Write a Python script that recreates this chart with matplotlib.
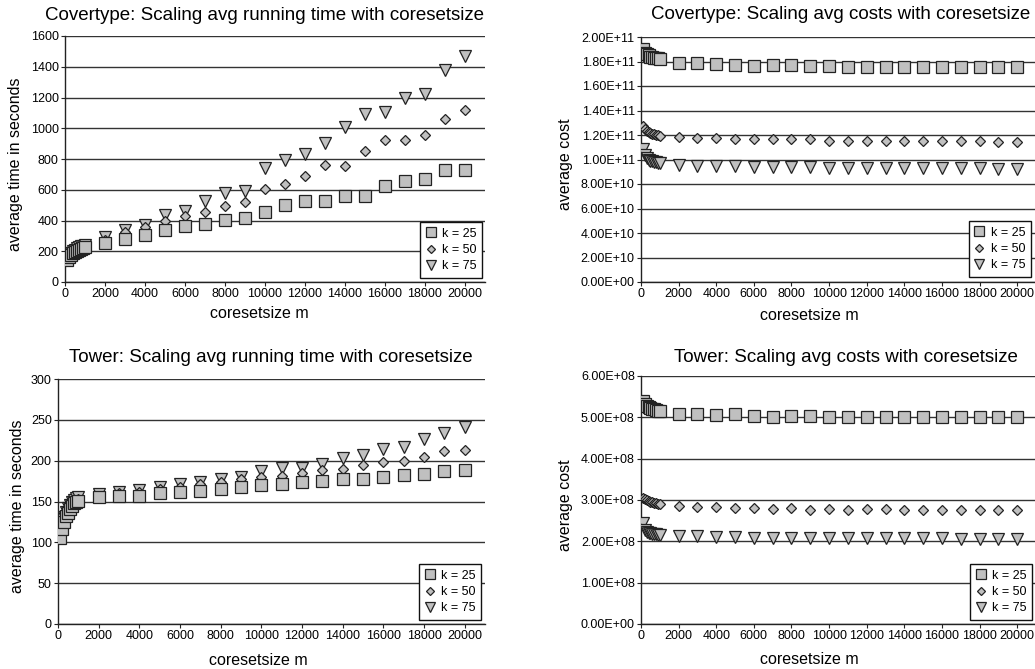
import numpy as np
import matplotlib

matplotlib.use("Agg")
import matplotlib.pyplot as plt
from matplotlib.ticker import FuncFormatter, MultipleLocator

plt.rcParams["font.family"] = ["Liberation Sans", "DejaVu Sans"]

# coreset sizes: fine steps up to 1000, then steps of 1000
coreset_m = [100, 200, 300, 400, 500, 600, 700, 800, 900, 1000,
             2000, 3000, 4000, 5000, 6000, 7000, 8000, 9000, 10000, 11000,
             12000, 13000, 14000, 15000, 16000, 17000, 18000, 19000, 20000]
k_labels = ["k = 25", "k = 50", "k = 75"]

# Covertype running time (seconds)
cov_time_k25 = [145, 165, 178, 188, 197, 204, 210, 216, 222, 228,
                256, 282, 304, 336, 362, 375, 401, 418, 455, 501,
                525, 529, 562, 557, 622, 657, 668, 731, 728]
cov_time_k50 = [152, 172, 185, 195, 204, 211, 218, 224, 229, 234,
                275, 325, 358, 395, 427, 455, 492, 518, 605, 635,
                689, 759, 757, 850, 926, 921, 954, 1062, 1117]
cov_time_k75 = [158, 178, 191, 202, 210, 218, 225, 231, 237, 242,
                290, 336, 373, 434, 460, 525, 581, 592, 741, 793,
                833, 904, 1008, 1095, 1106, 1197, 1225, 1381, 1468]

# Covertype average cost (x 1e11)
cov_cost_k25 = [1.90, 1.87, 1.86, 1.85, 1.84, 1.835, 1.83, 1.83, 1.825, 1.822,
                1.787, 1.787, 1.782, 1.771, 1.765, 1.768, 1.768, 1.763, 1.760, 1.758,
                1.758, 1.757, 1.755, 1.755, 1.755, 1.757, 1.755, 1.755, 1.752]
cov_cost_k50 = [1.27, 1.25, 1.235, 1.225, 1.215, 1.21, 1.205, 1.20, 1.20, 1.195,
                1.187, 1.173, 1.173, 1.168, 1.165, 1.165, 1.165, 1.165, 1.155, 1.155,
                1.152, 1.150, 1.150, 1.150, 1.148, 1.148, 1.147, 1.146, 1.145]
cov_cost_k75 = [1.085, 1.035, 1.01, 0.995, 0.99, 0.985, 0.98, 0.978, 0.975, 0.972,
                0.957, 0.950, 0.948, 0.943, 0.940, 0.938, 0.937, 0.935, 0.933, 0.932,
                0.931, 0.930, 0.929, 0.929, 0.928, 0.927, 0.927, 0.926, 0.925]

# Tower running time (seconds)
tow_time_k25 = [105, 116.6, 125.5, 131.7, 136.5, 141, 144.7, 148, 150, 150.8,
                154.9, 157, 157.3, 159.8, 161.8, 163, 165, 167.5, 169.6, 171.2,
                174, 175.3, 177.3, 177.7, 180.6, 182.2, 183.8, 187, 188]
tow_time_k50 = [110, 121, 129, 135, 140, 144, 147, 150, 152, 153,
                157, 160, 162, 165.5, 168, 171.6, 174, 178, 179.8, 181.4,
                184.6, 188, 189.5, 194.8, 198, 199, 204, 211.5, 213]
tow_time_k75 = [112, 123, 131, 137, 142, 146, 149, 152, 154, 155,
                158.6, 161.4, 163.5, 168.3, 171.6, 174, 177.7, 180.6, 187.5, 191.6,
                191.6, 196, 203.8, 206.7, 214.4, 217.3, 227, 233.6, 241.3]

# Tower average cost (x 1e8)
tow_cost_k25 = [5.39, 5.32, 5.27, 5.25, 5.22, 5.20, 5.19, 5.17, 5.16, 5.15,
                5.09, 5.07, 5.06, 5.07, 5.03, 5.02, 5.04, 5.03, 5.01, 5.00,
                5.01, 5.00, 5.00, 5.00, 5.00, 5.00, 5.02, 5.00, 5.00]
tow_cost_k50 = [3.06, 3.02, 2.99, 2.97, 2.95, 2.94, 2.93, 2.92, 2.91, 2.90,
                2.86, 2.84, 2.82, 2.81, 2.81, 2.79, 2.80, 2.77, 2.79, 2.77,
                2.78, 2.78, 2.77, 2.77, 2.76, 2.77, 2.76, 2.76, 2.75]
tow_cost_k75 = [2.45, 2.27, 2.22, 2.20, 2.19, 2.18, 2.17, 2.17, 2.16, 2.16,
                2.13, 2.12, 2.11, 2.10, 2.09, 2.09, 2.09, 2.08, 2.09, 2.08,
                2.07, 2.07, 2.07, 2.07, 2.07, 2.06, 2.06, 2.06, 2.06]

W, H = 1035, 669
FILL = "#c0c0c0"
EDGE = "#222222"
GRID = "#333333"


def px_axes(fig, left, right, top, bottom):
    return fig.add_axes([left / W, 1 - bottom / H, (right - left) / W, (bottom - top) / H])


def draw_panel(ax, series, title, ylabel, ymax, ystep, xmax, fmt,
               title_xy, ylabel_x, xlabel_xy, legend_xy):
    markers = [("s", 8.2), ("D", 5.2), ("v", 8.6)]
    # k=75 first so the squares end up on top
    for i in [2, 1, 0]:
        m, ms = markers[i]
        ax.plot(coreset_m, np.array(series[i]) * fmt[1], linestyle="none",
                marker=m, markersize=ms, markerfacecolor=FILL,
                markeredgecolor=EDGE, markeredgewidth=0.9,
                label=k_labels[i], zorder=3)

    ax.set_xlim(0, xmax)
    ax.set_ylim(0, ymax)
    ax.xaxis.set_major_locator(MultipleLocator(2000))
    ax.yaxis.set_major_locator(MultipleLocator(ystep))
    if fmt[0] is not None:
        ax.yaxis.set_major_formatter(FuncFormatter(fmt[0]))
    ax.grid(axis="y", color=GRID, linewidth=1.0, zorder=0)
    ax.set_axisbelow(True)
    for s in ["top", "right"]:
        ax.spines[s].set_visible(False)
    for s in ["left", "bottom"]:
        ax.spines[s].set_color("#222222")
        ax.spines[s].set_linewidth(1.0)
    ax.tick_params(axis="both", direction="out", length=3, width=0.8,
                   labelsize=9, pad=1.5, color="#222222")

    ax.text(title_xy[0], title_xy[1], title, transform=ax.transAxes,
            ha="center", va="center", fontsize=13.5)
    ax.text(ylabel_x, 0.48, ylabel, transform=ax.transAxes, rotation=90,
            ha="center", va="center", fontsize=11.5)
    ax.text(xlabel_xy[0], xlabel_xy[1], "coresetsize m", transform=ax.transAxes,
            ha="center", va="center", fontsize=11.5)

    handles, labels = ax.get_legend_handles_labels()
    leg = ax.legend(handles[::-1], labels[::-1], loc="lower right",
                    bbox_to_anchor=legend_xy, fontsize=9, frameon=True,
                    fancybox=False, framealpha=1, edgecolor="#111111",
                    handlelength=0.8, handletextpad=0.5, labelspacing=0.35,
                    borderpad=0.45, borderaxespad=0, markerscale=0.8)
    leg.get_frame().set_linewidth(1.0)
    leg.set_zorder(5)


def sci_fmt(v, pos):
    return f"{v:.2E}"


fig = plt.figure(figsize=(W / 100, H / 100), dpi=100)

ax1 = px_axes(fig, 65, 485, 36, 282)
draw_panel(ax1, [cov_time_k25, cov_time_k50, cov_time_k75],
           "Covertype: Scaling avg running time with coresetsize",
           "average time in seconds", 1600, 200, 21000, (None, 1),
           (0.476, 1.085), -0.119, (0.462, -0.13), (0.993, 0.016))

ax2 = px_axes(fig, 641, 1036, 37, 282)
draw_panel(ax2, [cov_cost_k25, cov_cost_k50, cov_cost_k75],
           "Covertype: Scaling avg costs with coresetsize",
           "average cost", 2.0e11, 2.0e10, 21000, (sci_fmt, 1e11),
           (0.506, 1.09), -0.192, (0.425, -0.135), (0.987, 0.02))

ax3 = px_axes(fig, 58, 485, 379, 624)
draw_panel(ax3, [tow_time_k25, tow_time_k50, tow_time_k75],
           "Tower: Scaling avg running time with coresetsize",
           "average time in seconds", 300, 50, 21000, (None, 1),
           (0.499, 1.086), -0.096, (0.47, -0.147), (0.991, 0.016))

ax4 = px_axes(fig, 641, 1036, 376, 624)
draw_panel(ax4, [tow_cost_k25, tow_cost_k50, tow_cost_k75],
           "Tower: Scaling avg costs with coresetsize",
           "average cost", 6.0e8, 1.0e8, 21000, (sci_fmt, 1e8),
           (0.519, 1.073), -0.192, (0.425, -0.145), (0.99, 0.016))

fig.savefig("out.png", dpi=100, facecolor="white")
